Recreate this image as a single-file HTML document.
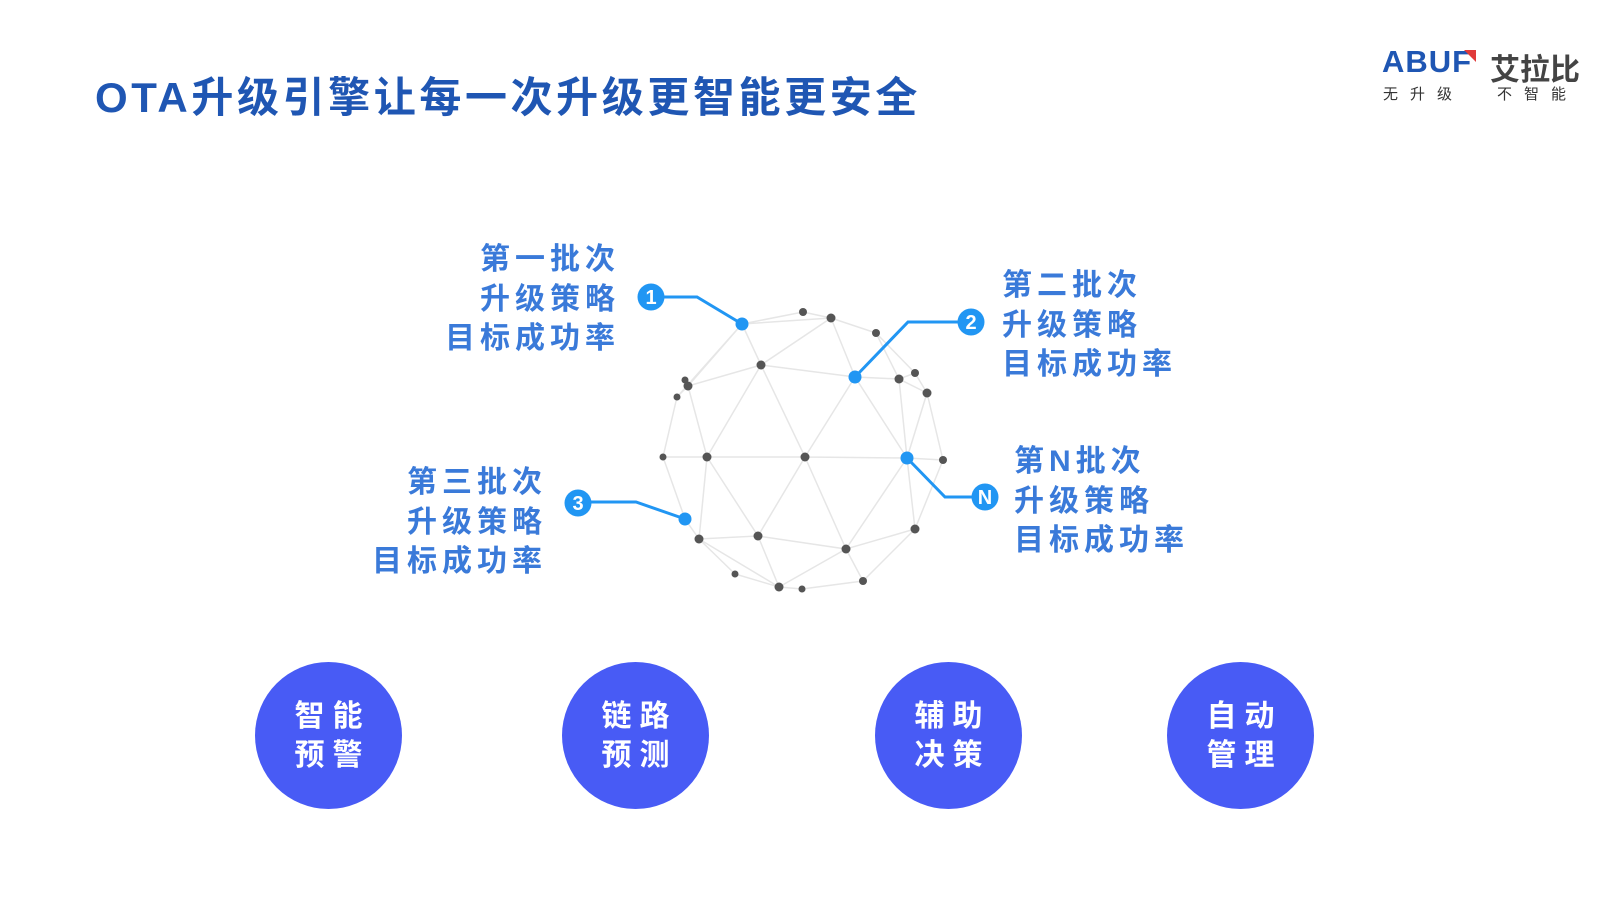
<!DOCTYPE html>
<html><head><meta charset="utf-8"><style>
body{margin:0;width:1606px;height:900px;background:#fff;position:relative;overflow:hidden;font-family:"Liberation Sans","Noto Sans CJK SC",sans-serif}
.t{position:absolute;font-weight:bold;white-space:nowrap}
.lab{position:absolute;color:#3a7ad9;font-weight:bold;font-size:30px;letter-spacing:5px;line-height:39.5px;white-space:nowrap}
.r{text-align:right;margin-right:-5px}
.c{position:absolute;width:147px;height:147px;border-radius:50%;background:#485bf5;color:#fff;font-weight:bold;font-size:30px;letter-spacing:8px;line-height:39px;text-align:center;display:flex;align-items:center;justify-content:center}
.c span{margin-right:-8px}
</style></head><body>
<div class="t" style="left:95px;top:64px;font-size:42px;letter-spacing:3.6px;color:#1f56b3">OTA升级引擎让每一次升级更智能更安全</div>
<div class="t" style="left:1382px;top:44px;font-size:31px;color:#1f56b3;font-family:'Liberation Sans',sans-serif;letter-spacing:1px">ABUF</div>
<svg style="position:absolute;left:1462px;top:50px" width="16" height="14"><polygon points="2,0 14,0 14,12" fill="#e03a3a"/></svg>
<div class="t" style="left:1490px;top:45px;font-size:30px;color:#444">艾拉比</div>
<div class="t" style="left:1383px;top:83px;font-size:15px;color:#333;font-weight:normal;letter-spacing:12px">无升级</div>
<div class="t" style="left:1497px;top:83px;font-size:15px;color:#333;font-weight:normal;letter-spacing:12px">不智能</div>

<svg style="position:absolute;left:0;top:0" width="1606" height="900">
<g stroke="#e6e6e6" stroke-width="1.5" fill="none">
<path d="M742,324L803,312L831,318L742,324M742,324L761,365L831,318L876,333L899,379M831,318L855,377M761,365L855,377L899,379L915,373L927,393L943,460M899,379L927,393M876,333L915,373M742,324L688,386L685,380M688,386L761,365M688,386L677,397L663,457L685,519L699,539M688,386L707,457L761,365L805,457L855,377L907,458L899,379M663,457L707,457L805,457L907,458L943,460M899,379L907,458M927,393L907,458M707,457L699,539L758,536L707,457M805,457L758,536L846,549L805,457M907,458L846,549L915,529L907,458M943,460L915,529L863,581L846,549M699,539L735,574L779,587L758,536M779,587L846,549M779,587L802,589L863,581M699,539L779,587M742,324L677,397"/>
</g>
<g fill="#555">
<circle cx="803" cy="312" r="4"/><circle cx="831" cy="318" r="4.5"/><circle cx="876" cy="333" r="4"/><circle cx="761" cy="365" r="4.5"/><circle cx="899" cy="379" r="4.5"/><circle cx="915" cy="373" r="4"/><circle cx="927" cy="393" r="4.5"/><circle cx="685" cy="380" r="3.5"/><circle cx="688" cy="386" r="4.5"/><circle cx="677" cy="397" r="3.5"/><circle cx="663" cy="457" r="3.5"/><circle cx="707" cy="457" r="4.5"/><circle cx="805" cy="457" r="4.5"/><circle cx="943" cy="460" r="4"/><circle cx="699" cy="539" r="4.5"/><circle cx="758" cy="536" r="4.5"/><circle cx="846" cy="549" r="4.5"/><circle cx="915" cy="529" r="4.5"/><circle cx="735" cy="574" r="3.5"/><circle cx="779" cy="587" r="4.5"/><circle cx="802" cy="589" r="3.5"/><circle cx="863" cy="581" r="4"/>
</g>
<g stroke="#2196f3" stroke-width="3" fill="none">
<polyline points="651,297 697,297 742,324"/>
<polyline points="855,377 908,322 971,322"/>
<polyline points="907,458 945,497 985,497"/>
<polyline points="685,519 636,502 578,502"/>
</g>
<g fill="#2196f3">
<circle cx="742" cy="324" r="6.5"/><circle cx="855" cy="377" r="6.5"/><circle cx="907" cy="458" r="6.5"/><circle cx="685" cy="519" r="6.5"/>
<circle cx="651" cy="297" r="13.5"/><circle cx="971" cy="322" r="13.5"/><circle cx="985" cy="497" r="13.5"/><circle cx="578" cy="503" r="13.5"/>
</g>
<g fill="#fff" font-family="Liberation Sans" font-weight="bold" font-size="20" text-anchor="middle">
<text x="651" y="304">1</text><text x="971" y="329">2</text><text x="985" y="504">N</text><text x="578" y="510">3</text>
</g>
</svg>

<div class="lab r" style="right:991px;top:240px">第一批次<br>升级策略<br>目标成功率</div>
<div class="lab" style="left:1002px;top:266px">第二批次<br>升级策略<br>目标成功率</div>
<div class="lab" style="left:1014px;top:442px">第N批次<br>升级策略<br>目标成功率</div>
<div class="lab r" style="right:1064px;top:463px">第三批次<br>升级策略<br>目标成功率</div>

<div class="c" style="left:255px;top:662px"><span>智能<br>预警</span></div>
<div class="c" style="left:562px;top:662px"><span>链路<br>预测</span></div>
<div class="c" style="left:875px;top:662px"><span>辅助<br>决策</span></div>
<div class="c" style="left:1167px;top:662px"><span>自动<br>管理</span></div>
</body></html>
